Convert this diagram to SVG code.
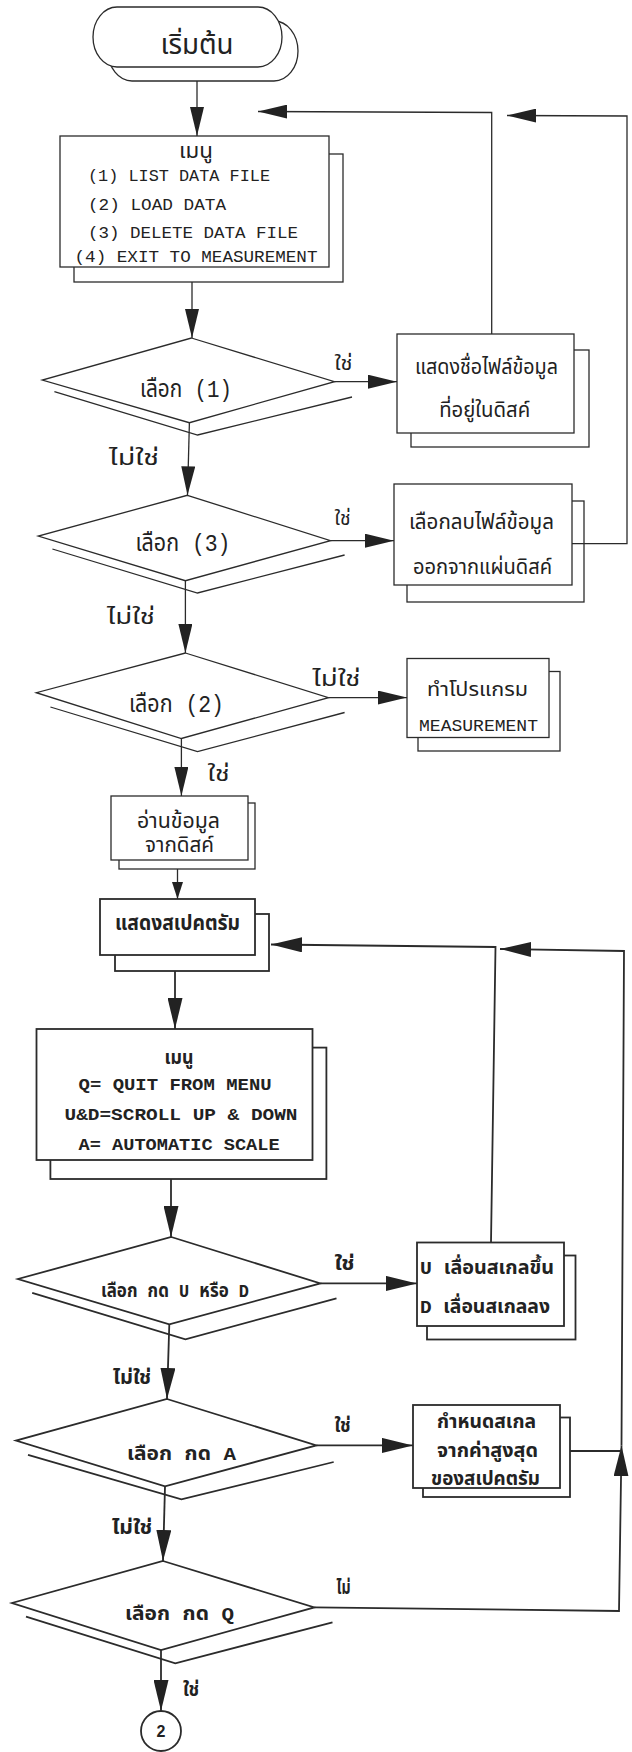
<svg xmlns="http://www.w3.org/2000/svg" width="632" height="1752" viewBox="0 0 632 1752">
  <style>
    .sh, .fr { fill: #ffffff; stroke: #2b2b2b; stroke-width: 1.3; }
    .lo .sh, .lo .fr { stroke-width: 1.8; }
    .v { fill: none; stroke: #2b2b2b; stroke-width: 1.3; }
    .lo .v { stroke-width: 1.8; }
    .cn { fill: none; stroke: #2b2b2b; stroke-width: 1.3; }
    .cn.lo { stroke-width: 1.8; }
    text { fill: #222222; font-family: "Liberation Mono", "Noto Sans Thai", "Tlwg Typist", "Loma", "Garuda", "Waree", "Sarabun", "DejaVu Sans", sans-serif; text-anchor: middle; }
    .mono, .st { text-anchor: start; }
    .lo text { font-weight: bold; }
  </style>
  <defs>
    <marker id="ah" markerUnits="userSpaceOnUse" viewBox="0 0 29 14" markerWidth="29" markerHeight="14" refX="29" refY="7" orient="auto">
      <path d="M0,0 L29,7 L0,14 Z" fill="#222222"/>
    </marker>
    <marker id="ah-b" markerUnits="userSpaceOnUse" viewBox="0 0 31 15" markerWidth="31" markerHeight="15" refX="31" refY="7.5" orient="auto">
      <path d="M0,0 L31,7.5 L0,15 Z" fill="#222222"/>
    </marker>
    <marker id="ah-s" markerUnits="userSpaceOnUse" viewBox="0 0 17 11" markerWidth="17" markerHeight="11" refX="17" refY="5.5" orient="auto">
      <path d="M0,0 L17,5.5 L0,11 Z" fill="#222222"/>
    </marker>
  </defs>

  <rect width="632" height="1752" fill="#ffffff"/>

  <!-- start terminal -->
  <g id="start">
    <rect class="sh" x="108" y="21" width="190" height="60" rx="24" ry="30"/>
    <rect class="fr" x="93" y="7" width="189" height="60" rx="24" ry="30"/>
    <text x="197" y="54" font-size="28" textLength="73" lengthAdjust="spacingAndGlyphs">เริ่มต้น</text>
  </g>

  <!-- main menu -->
  <g id="menu-main">
    <rect class="sh" x="74" y="154" width="269" height="128"/>
    <rect class="fr" x="60" y="136" width="269" height="131"/>
    <text x="196" y="158" font-size="21" textLength="34" lengthAdjust="spacingAndGlyphs">เมนู</text>
    <text class="mono" x="88" y="181" font-size="17" textLength="182" lengthAdjust="spacingAndGlyphs">(1) LIST DATA FILE</text>
    <text class="mono" x="88" y="210" font-size="17" textLength="138" lengthAdjust="spacingAndGlyphs">(2) LOAD DATA</text>
    <text class="mono" x="88" y="238" font-size="17" textLength="210" lengthAdjust="spacingAndGlyphs">(3) DELETE DATA FILE</text>
    <text class="mono" x="74.5" y="262" font-size="17" textLength="243" lengthAdjust="spacingAndGlyphs">(4) EXIT TO MEASUREMENT</text>
  </g>

  <!-- decision (1) -->
  <g id="choice-1">
    <polyline class="v" points="54.4,391.7 197.6,435 352,397"/>
    <polygon class="fr" points="191.4,338 334.5,381.7 189.4,422.7 42.3,380"/>
    <text x="186" y="397" font-size="24" textLength="92" lengthAdjust="spacingAndGlyphs">เลือก (1)</text>
  </g>

  <!-- list files -->
  <g id="list-files">
    <rect class="sh" x="411" y="350" width="178" height="97"/>
    <rect class="fr" x="397" y="334" width="177" height="99"/>
    <text x="486.5" y="374" font-size="21" textLength="143" lengthAdjust="spacingAndGlyphs">แสดงชื่อไฟล์ข้อมูล</text>
    <text x="484.7" y="417" font-size="21" textLength="91" lengthAdjust="spacingAndGlyphs">ที่อยู่ในดิสค์</text>
  </g>

  <!-- decision (3) -->
  <g id="choice-3">
    <polyline class="v" points="52.4,549 197.5,593 344.6,555"/>
    <polygon class="fr" points="187.4,495.3 330.5,540.7 185.4,580.7 38.3,536"/>
    <text x="183" y="551" font-size="24" textLength="95" lengthAdjust="spacingAndGlyphs">เลือก (3)</text>
  </g>

  <!-- delete file -->
  <g id="delete-file">
    <rect class="sh" x="407" y="501" width="177" height="101"/>
    <rect class="fr" x="394" y="484" width="178" height="101"/>
    <text x="481.5" y="529" font-size="21" textLength="145" lengthAdjust="spacingAndGlyphs">เลือกลบไฟล์ข้อมูล</text>
    <text x="482.5" y="574" font-size="21" textLength="139" lengthAdjust="spacingAndGlyphs">ออกจากแผ่นดิสค์</text>
  </g>

  <!-- decision (2) -->
  <g id="choice-2">
    <polyline class="v" points="50.4,707 197.5,751.6 344.6,712.5"/>
    <polygon class="fr" points="185.4,653 328.5,697.6 181.4,738.5 36.3,692.7"/>
    <text x="176.5" y="712" font-size="24" textLength="95" lengthAdjust="spacingAndGlyphs">เลือก (2)</text>
  </g>

  <!-- run measurement program -->
  <g id="run-measurement">
    <rect class="sh" x="418" y="671.5" width="142" height="79.5"/>
    <rect class="fr" x="407" y="658.5" width="142" height="79"/>
    <text x="477.5" y="696" font-size="20" textLength="101" lengthAdjust="spacingAndGlyphs">ทำโปรแกรม</text>
    <text class="mono" x="419" y="731" font-size="16" textLength="119" lengthAdjust="spacingAndGlyphs">MEASUREMENT</text>
  </g>

  <!-- read data -->
  <g id="read-data">
    <rect class="sh" x="119" y="803" width="136" height="66"/>
    <rect class="fr" x="111" y="796" width="137" height="64"/>
    <text x="178.4" y="828" font-size="21" textLength="83" lengthAdjust="spacingAndGlyphs">อ่านข้อมูล</text>
    <text x="179.5" y="852" font-size="21" textLength="69" lengthAdjust="spacingAndGlyphs">จากดิสค์</text>
  </g>

  <g class="lo">
    <!-- show spectrum -->
    <g id="show-spectrum">
      <rect class="sh" x="115" y="914" width="154" height="57"/>
      <rect class="fr" x="100" y="899" width="155" height="56"/>
      <text x="177.5" y="930" font-size="21" textLength="125" lengthAdjust="spacingAndGlyphs">แสดงสเปคตรัม</text>
    </g>

    <!-- spectrum menu -->
    <g id="menu-spectrum">
      <rect class="sh" x="50.4" y="1047.6" width="276" height="131.4"/>
      <rect class="fr" x="36.5" y="1029" width="276" height="131"/>
      <text x="179" y="1064" font-size="19" textLength="29" lengthAdjust="spacingAndGlyphs">เมนู</text>
      <text class="mono" x="78.6" y="1090" font-size="17" textLength="193" lengthAdjust="spacingAndGlyphs">Q= QUIT FROM MENU</text>
      <text class="mono" x="64.5" y="1120" font-size="17" textLength="233" lengthAdjust="spacingAndGlyphs">U&amp;D=SCROLL UP &amp; DOWN</text>
      <text class="mono" x="78.6" y="1150" font-size="17" textLength="201" lengthAdjust="spacingAndGlyphs">A= AUTOMATIC SCALE</text>
    </g>

    <!-- decision U or D -->
    <g id="choice-ud">
      <polyline class="v" points="32.2,1292.8 185.4,1339.3 336.5,1298.3"/>
      <polygon class="fr" points="171.3,1237 320.4,1283.4 169.3,1324.4 18,1279"/>
      <text x="175" y="1297" font-size="19" textLength="148" lengthAdjust="spacingAndGlyphs">เลือก กด U หรือ D</text>
    </g>

    <!-- scroll scale -->
    <g id="scroll-scale">
      <rect class="sh" x="427" y="1255.5" width="148.5" height="84"/>
      <rect class="fr" x="417" y="1242.5" width="147" height="83.5"/>
      <text class="st" x="420" y="1274" font-size="19" textLength="134" lengthAdjust="spacingAndGlyphs">U เลื่อนสเกลขึ้น</text>
      <text class="st" x="420" y="1313" font-size="19" textLength="130" lengthAdjust="spacingAndGlyphs">D เลื่อนสเกลลง</text>
    </g>

    <!-- decision A -->
    <g id="choice-a">
      <polyline class="v" points="28,1454.8 181.4,1499.4 333.7,1462"/>
      <polygon class="fr" points="167,1399 316.4,1445.4 165,1486.4 16,1440.6"/>
      <text x="181.5" y="1460" font-size="19" textLength="109" lengthAdjust="spacingAndGlyphs">เลือก กด  A</text>
    </g>

    <!-- automatic scale -->
    <g id="auto-scale">
      <rect class="sh" x="423" y="1417.5" width="147" height="79.5"/>
      <rect class="fr" x="413" y="1405" width="147" height="83"/>
      <text x="486.5" y="1428" font-size="19" textLength="99" lengthAdjust="spacingAndGlyphs">กำหนดสเกล</text>
      <text x="487.5" y="1457" font-size="19" textLength="101" lengthAdjust="spacingAndGlyphs">จากค่าสูงสุด</text>
      <text x="485.5" y="1485" font-size="19" textLength="109" lengthAdjust="spacingAndGlyphs">ของสเปคตรัม</text>
    </g>

    <!-- decision Q -->
    <g id="choice-q">
      <polyline class="v" points="26,1616.7 175.3,1663.3 332.5,1622.3"/>
      <polygon class="fr" points="163,1561 314.4,1607.4 161,1650 12,1603"/>
      <text x="179.5" y="1620" font-size="19" textLength="109" lengthAdjust="spacingAndGlyphs">เลือก กด  Q</text>
    </g>

    <!-- off-page connector 2 -->
    <g id="connector-2">
      <circle class="fr" cx="161" cy="1731" r="20"/>
      <text x="161" y="1737" font-size="16" style="font-family: 'Liberation Sans', sans-serif">2</text>
    </g>
  </g>

  <!-- connectors -->
  <g id="connectors">
    <path class="cn" d="M197,81 V136" marker-end="url(#ah)"/>
    <path class="cn" d="M192,282 V338" marker-end="url(#ah)"/>
    <path class="cn" d="M334.5,381.7 H397" marker-end="url(#ah)"/>
    <path class="cn" d="M189.4,422.7 L187.5,495.3" marker-end="url(#ah)"/>
    <path class="cn" d="M330.5,540.7 H394" marker-end="url(#ah)"/>
    <path class="cn" d="M185.4,580.7 V653" marker-end="url(#ah)"/>
    <path class="cn" d="M328.5,697.6 H407" marker-end="url(#ah)"/>
    <path class="cn" d="M181.4,738.5 V796" marker-end="url(#ah)"/>
    <path class="cn" d="M491.7,334 V112.5 L258,111.5" marker-end="url(#ah)"/>
    <path class="cn" d="M572,543.7 H627 V116 L507,115.5" marker-end="url(#ah)"/>
    <path class="cn" d="M177.5,869 V899" marker-end="url(#ah-s)"/>

    <path class="cn lo" d="M175,971 V1029" marker-end="url(#ah-b)"/>
    <path class="cn lo" d="M171,1179 V1237" marker-end="url(#ah-b)"/>
    <path class="cn lo" d="M320.4,1283.4 H417" marker-end="url(#ah-b)"/>
    <path class="cn lo" d="M169.3,1324.4 L167,1399" marker-end="url(#ah-b)"/>
    <path class="cn lo" d="M316.4,1445.4 H413" marker-end="url(#ah-b)"/>
    <path class="cn lo" d="M165,1486.4 L163,1561" marker-end="url(#ah-b)"/>
    <path class="cn lo" d="M161,1650 V1711" marker-end="url(#ah-b)"/>
    <path class="cn lo" d="M491,1242.5 L495.5,947 L271,944.5" marker-end="url(#ah-b)"/>
    <path class="cn lo" d="M314.4,1607.4 L619,1611 L621.5,1445.4" marker-end="url(#ah-b)"/>
    <path class="cn lo" d="M621.5,1445.4 L624,951 L500,949" marker-end="url(#ah-b)"/>
    <path class="cn lo" d="M570,1451 H621.5"/>
  </g>

  <!-- connector labels -->
  <g id="edge-labels">
    <text x="343.5" y="370" font-size="20" textLength="18" lengthAdjust="spacingAndGlyphs">ใช่</text>
    <text x="134" y="465" font-size="21" textLength="50" lengthAdjust="spacingAndGlyphs">ไม่ใช่</text>
    <text x="342.6" y="525" font-size="20" textLength="16" lengthAdjust="spacingAndGlyphs">ใช่</text>
    <text x="131" y="624" font-size="21" textLength="48" lengthAdjust="spacingAndGlyphs">ไม่ใช่</text>
    <text x="336.5" y="686" font-size="21" textLength="48" lengthAdjust="spacingAndGlyphs">ไม่ใช่</text>
    <text x="218.6" y="781" font-size="21" textLength="22" lengthAdjust="spacingAndGlyphs">ใช่</text>
    <g class="lo">
      <text x="344.6" y="1270" font-size="19" textLength="20" lengthAdjust="spacingAndGlyphs">ใช่</text>
      <text x="132" y="1384" font-size="19" textLength="38" lengthAdjust="spacingAndGlyphs">ไม่ใช่</text>
      <text x="342.6" y="1432" font-size="19" textLength="16" lengthAdjust="spacingAndGlyphs">ใช่</text>
      <text x="132" y="1534" font-size="19" textLength="40" lengthAdjust="spacingAndGlyphs">ไม่ใช่</text>
      <text x="343.5" y="1594" font-size="19" textLength="14" lengthAdjust="spacingAndGlyphs">ไม่</text>
      <text x="191" y="1696" font-size="19" textLength="16" lengthAdjust="spacingAndGlyphs">ใช่</text>
    </g>
  </g>
</svg>
